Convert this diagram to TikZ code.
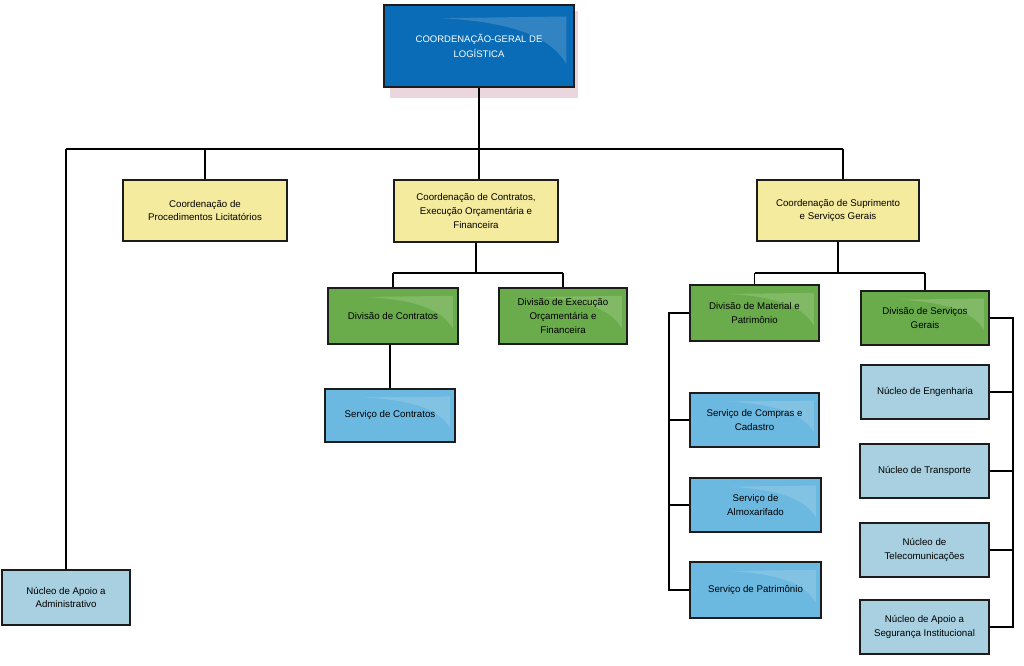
\documentclass[tikz,border=0pt]{standalone}
\usepackage{fontspec}
\setmainfont{Liberation Sans}
\usetikzlibrary{calc}
\definecolor{topblue}{HTML}{0A6CB6}
\definecolor{ylw}{HTML}{F5EB9F}
\definecolor{grn}{HTML}{6AAC4B}
\definecolor{svc}{HTML}{6BB8E0}
\definecolor{nuc}{HTML}{A8D0E1}
\definecolor{edge}{HTML}{1C1C1C}
\definecolor{shadowpink}{HTML}{EBD6DD}
\tikzset{
  base/.style={draw=edge, line width=1.8pt, inner sep=0pt, align=center,
    font=\fontsize{9.7}{13.8}\selectfont},
  gloss/.style={path picture={
    \fill[white,opacity=0.16] let \p1=(path picture bounding box.north west),
      \p2=(path picture bounding box.south east), \n1={\x2-\x1}, \n2={\y1-\y2} in
      (\x1+0.3*\n1,\y1-0.16*\n2) -- (\x1+0.96*\n1,\y1-0.14*\n2) -- (\x1+0.96*\n1,\y1-0.72*\n2)
      .. controls (\x1+0.86*\n1,\y1-0.32*\n2) and (\x1+0.6*\n1,\y1-0.2*\n2) ..
      (\x1+0.3*\n1,\y1-0.16*\n2) -- cycle;}},
  topbox/.style={base, fill=topblue, text=white, gloss,
    font=\fontsize{9.5}{15}\selectfont},
  ybox/.style={base, fill=ylw},
  gbox/.style={base, fill=grn, gloss},
  sbox/.style={base, fill=svc, gloss},
  nbox/.style={base, fill=nuc},
  conn/.style={draw=black, line width=1.9pt},
}
\begin{document}
\begin{tikzpicture}[x=1pt,y=-1pt]
\useasboundingbox (0,0) rectangle (1024,665);
% shadow of top box
\fill[shadowpink] (390,11) rectangle (578,98);
\node[topbox, minimum width=190pt, minimum height=82pt] (top) at (479,46) {COORDENAÇÃO-GERAL DE\\LOGÍSTICA};

\node[ybox, minimum width=164pt, minimum height=61pt] (y1) at (205,210.5) {Coordenação de\\Procedimentos Licitatórios};
\node[ybox, minimum width=164pt, minimum height=62pt] (y2) at (476,211) {Coordenação de Contratos,\\Execução Orçamentária e\\Financeira};
\node[ybox, minimum width=162pt, minimum height=61pt] (y3) at (838,210.5) {Coordenação de Suprimento\\e Serviços Gerais};

\node[gbox, minimum width=130pt, minimum height=56pt] (g1) at (393,316) {Divisão de Contratos};
\node[gbox, minimum width=128pt, minimum height=56pt] (g2) at (563,316) {Divisão de Execução\\Orçamentária e\\Financeira};
\node[gbox, minimum width=129pt, minimum height=56pt] (g3) at (754.5,313) {Divisão de Material e\\Patrimônio};
\node[gbox, minimum width=128pt, minimum height=54pt] (g4) at (925,318) {Divisão de Serviços\\Gerais};

\node[sbox, minimum width=130pt, minimum height=53pt] (sc) at (390,415.5) {Serviço de Contratos};
\node[sbox, minimum width=129pt, minimum height=54pt] (s1) at (754.5,420) {Serviço de Compras e\\Cadastro};
\node[sbox, minimum width=131pt, minimum height=54pt] (s2) at (755.5,505) {Serviço de\\Almoxarifado};
\node[sbox, minimum width=131pt, minimum height=56pt] (s3) at (755.5,590) {Serviço de Patrimônio};

\node[nbox, minimum width=128pt, minimum height=54pt] (n1) at (925,392) {Núcleo de Engenharia};
\node[nbox, minimum width=129pt, minimum height=54pt] (n2) at (924.5,471) {Núcleo de Transporte};
\node[nbox, minimum width=129pt, minimum height=54pt] (n3) at (924.5,550) {Núcleo de\\Telecomunicações};
\node[nbox, minimum width=129pt, minimum height=54pt] (n4) at (924.5,627) {Núcleo de Apoio a\\Segurança Institucional};
\node[nbox, minimum width=128pt, minimum height=55pt] (nap) at (66,597.5) {Núcleo de Apoio a\\Administrativo};

% buses
\coordinate (bus) at (0,149);
\coordinate (busA) at (0,273);
\coordinate (lb) at (669,0);
\coordinate (rb) at (1013,0);
\coordinate (y3in) at (843,0);

% top level
\draw[conn] (top.south) -- (top.south |- bus);
\draw[conn] (nap.north |- bus) -- (y3in |- bus);
\draw[conn] (nap.north) -- (nap.north |- bus);
\draw[conn] (y1.north) -- (y1.north |- bus);
\draw[conn] (top.south |- y2.north) -- (top.south |- bus);
\draw[conn] (y3in |- y3.north) -- (y3in |- bus);

% under y2
\draw[conn] (y2.south) -- (y2.south |- busA);
\draw[conn] (g1.north |- busA) -- (g2.north |- busA);
\draw[conn] (g1.north) -- (g1.north |- busA);
\draw[conn] (g2.north) -- (g2.north |- busA);
\draw[conn] (sc.north) -- (sc.north |- g1.south);

% under y3
\draw[conn] (y3.south) -- (y3.south |- busA);
\draw[conn] (g3.north |- busA) -- (g4.north |- busA);
\draw[conn] (g3.north) -- (g3.north |- busA);
\draw[conn] (g4.north) -- (g4.north |- busA);

% left bracket
\draw[conn] (g3.west) -- (g3.west -| lb) -- (s3.west -| lb) -- (s3.west);
\draw[conn] (s1.west -| lb) -- (s1.west);
\draw[conn] (s2.west -| lb) -- (s2.west);

% right bracket
\draw[conn] (g4.east) -- (g4.east -| rb) -- (n4.east -| rb) -- (n4.east);
\draw[conn] (n1.east -| rb) -- (n1.east);
\draw[conn] (n2.east -| rb) -- (n2.east);
\draw[conn] (n3.east -| rb) -- (n3.east);
\end{tikzpicture}
\end{document}
